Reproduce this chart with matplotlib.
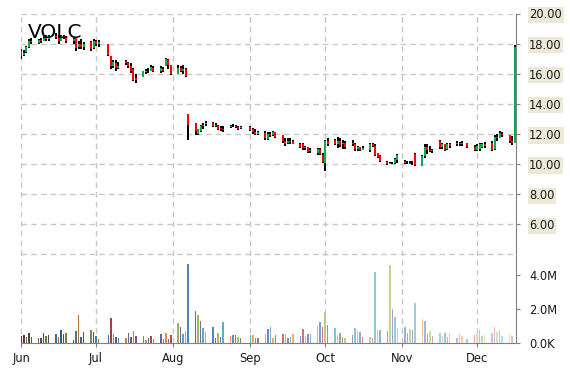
import numpy as np
import pandas as pd
import matplotlib
matplotlib.use('Agg')
import matplotlib.pyplot as plt
import matplotlib.dates as mdates
from matplotlib.colors import to_rgb

ticker = 'VOLC'

# trading days Jun 2 - Dec 17 2014
holidays = pd.to_datetime(['2014-07-04', '2014-09-01', '2014-11-27'])
dates = pd.bdate_range('2014-06-02', '2014-12-17')
dates = dates[~dates.isin(holidays)]

opens = [
    17.50, 17.25, 17.45, 17.80, 18.20, 18.05, 18.25, 18.20, 18.40, 18.30, 18.50,
    18.45, 18.20, 18.50, 18.40, 18.20, 18.40, 17.75, 18.00, 17.80, 18.10,
    17.70, 18.15, 17.95, 17.95, 17.20, 16.50, 16.70, 16.40, 16.85, 16.70, 16.50,
    16.30, 15.70, 15.80, 16.10, 16.20, 16.20, 16.40, 16.20, 16.30, 16.50, 16.90,
    16.55, 16.00, 16.40, 16.20, 16.30, 13.30, 12.70, 12.00, 12.20, 12.55, 12.65,
    12.70, 12.60, 12.55, 12.40, 12.35, 12.45, 12.50, 12.55, 12.45, 12.40,
    12.45, 12.30, 12.10, 12.00, 12.05, 11.65, 12.00, 11.90, 12.10, 11.90, 11.50,
    11.40, 11.55, 11.50, 11.35, 11.30, 11.05, 11.10, 10.85, 10.75, 11.00,
    10.60, 10.10, 11.50, 11.60, 11.30, 11.50, 11.30, 11.40, 11.40, 11.30, 11.00,
    11.10, 10.95, 10.90, 11.30, 11.20, 10.70, 10.55, 10.15, 10.00, 10.05, 10.05, 10.25,
    10.20, 10.05, 10.10, 10.10, 10.65, 9.90, 10.50, 11.10, 10.90, 10.85, 11.50,
    11.10, 11.30, 11.00, 11.30, 11.30, 11.40, 11.30, 11.40,
    11.10, 10.95, 11.00, 11.10, 11.30, 11.40, 11.00, 11.80, 11.75, 12.00, 11.90,
    11.50, 11.40,
]
highs = [
    17.65, 17.60, 17.85, 18.30, 18.35, 18.30, 18.40, 18.50, 18.60, 18.55, 18.70,
    18.55, 18.60, 18.60, 18.50, 18.45, 18.45, 18.20, 18.30, 18.10, 18.18,
    18.30, 18.25, 18.25, 18.00, 17.20, 16.90, 16.90, 16.80, 16.90, 16.80, 16.70,
    16.40, 15.95, 16.20, 16.30, 16.40, 16.60, 16.50, 16.50, 16.45, 17.05, 16.95,
    16.60, 16.60, 16.50, 16.60, 16.40, 13.30, 12.73, 12.35, 12.60, 12.73, 12.83,
    12.77, 12.70, 12.62, 12.55, 12.50, 12.60, 12.65, 12.60, 12.55, 12.50,
    12.55, 12.40, 12.30, 12.20, 12.17, 12.10, 12.15, 12.20, 12.15, 11.95, 11.76,
    11.75, 11.75, 11.60, 11.40, 11.40, 11.20, 11.14, 11.05, 11.07, 11.07,
    10.74, 11.60, 11.73, 11.69, 11.78, 11.75, 11.60, 11.50, 11.60, 11.40, 11.18,
    11.15, 11.18, 11.40, 11.40, 11.30, 10.74, 10.63, 10.19, 10.15, 10.15, 10.40, 10.68,
    10.30, 10.20, 10.20, 10.20, 10.74, 10.63, 11.30, 11.34, 11.20, 11.00, 11.60,
    11.40, 11.30, 11.40, 11.40, 11.50, 11.45, 11.50, 11.40,
    11.25, 11.30, 11.40, 11.40, 11.47, 11.50, 11.90, 12.00, 12.17, 12.10, 11.95,
    11.84, 17.90,
]
lows = [
    16.98, 17.15, 17.40, 17.74, 18.00, 17.96, 18.07, 18.15, 18.20, 18.20, 18.30,
    18.00, 18.15, 18.30, 18.05, 18.00, 17.50, 17.65, 17.67, 17.60, 17.50,
    17.65, 17.85, 17.75, 17.20, 16.30, 16.40, 16.20, 16.30, 16.55, 16.40, 16.05,
    15.50, 15.40, 15.75, 16.00, 16.05, 16.20, 16.10, 16.05, 16.10, 16.50, 16.30,
    15.90, 15.95, 16.10, 16.00, 15.75, 11.60, 11.95, 11.95, 12.10, 12.33, 12.50,
    12.46, 12.45, 12.28, 12.20, 12.15, 12.40, 12.45, 12.40, 12.28, 12.30,
    12.17, 12.00, 11.90, 11.95, 11.60, 11.60, 11.80, 11.85, 11.70, 11.40, 11.18,
    11.30, 11.35, 11.30, 11.07, 10.96, 10.90, 10.74, 10.75, 10.63, 10.60,
    10.05, 9.55, 11.18, 11.25, 11.07, 11.10, 11.00, 11.00, 11.20, 10.85, 10.85,
    10.85, 10.90, 10.80, 11.10, 10.52, 10.41, 10.15, 9.92, 9.97, 9.97, 9.97, 10.08,
    9.97, 9.97, 9.97, 9.95, 9.85, 9.85, 10.41, 10.68, 10.80, 10.75, 11.00,
    11.00, 10.85, 10.95, 11.07, 11.18, 11.20, 11.20, 11.07,
    10.85, 10.85, 10.85, 11.05, 11.07, 10.85, 10.95, 11.50, 11.73, 11.80, 11.40,
    11.29, 11.40,
]
closes = [
    17.20, 17.40, 17.75, 18.20, 18.10, 18.25, 18.20, 18.40, 18.30, 18.50, 18.45,
    18.20, 18.50, 18.35, 18.15, 18.30, 17.70, 18.00, 17.80, 18.00, 17.65,
    18.20, 17.95, 18.10, 17.25, 16.50, 16.75, 16.40, 16.50, 16.70, 16.50, 16.20,
    15.60, 15.60, 16.15, 16.20, 16.15, 16.45, 16.20, 16.35, 16.20, 16.95, 16.60,
    16.00, 16.40, 16.20, 16.30, 15.85, 12.60, 12.20, 12.30, 12.55, 12.60, 12.75,
    12.55, 12.50, 12.35, 12.30, 12.25, 12.50, 12.55, 12.45, 12.35, 12.45,
    12.25, 12.10, 12.00, 12.10, 11.70, 12.00, 11.90, 12.10, 11.80, 11.50, 11.30,
    11.55, 11.45, 11.35, 11.15, 11.05, 11.10, 10.80, 10.95, 11.00, 10.65,
    10.15, 11.50, 11.35, 11.30, 11.50, 11.25, 11.40, 11.10, 11.30, 11.00, 11.10,
    10.95, 11.05, 11.30, 11.20, 10.60, 10.45, 10.20, 10.00, 10.10, 10.10, 10.35, 10.60,
    10.05, 10.10, 10.00, 10.05, 9.95, 10.55, 11.10, 10.90, 10.85, 10.90, 11.10,
    11.35, 10.95, 11.30, 11.20, 11.40, 11.30, 11.40, 11.10,
    10.95, 11.20, 11.30, 11.35, 11.20, 10.90, 11.80, 11.70, 12.05, 11.90, 11.50,
    11.40, 17.80,
]
# volume in millions of shares
volumes = [
    0.45, 0.49, 0.39, 0.58, 0.37, 0.31, 0.31, 0.58, 0.45, 0.49, 0.53,
    0.37, 0.78, 0.55, 0.60, 0.19, 0.72, 1.66, 0.37, 0.64, 0.78,
    0.64, 0.41, 0.25, 0.49, 1.48, 0.55, 0.37, 0.31, 0.31, 0.60, 0.37,
    0.72, 0.43, 0.43, 0.19, 0.31, 0.43, 0.25, 0.55, 0.25, 0.60, 0.25,
    0.49, 1.19, 0.96, 0.55, 0.72, 4.64, 1.89, 1.66, 1.31, 0.90, 0.66,
    0.96, 0.31, 0.60, 0.37, 1.25, 0.43, 0.49, 0.49, 0.37, 0.31,
    0.49, 0.49, 0.31, 0.31, 0.55, 0.84, 0.96, 0.31, 0.49, 0.55, 0.55,
    0.31, 0.37, 0.55, 0.43, 0.84, 0.43, 0.55, 0.55, 1.01, 1.25,
    0.96, 1.83, 1.07, 0.90, 0.49, 0.60, 0.37, 0.31, 0.49, 0.90, 0.72,
    0.66, 0.37, 0.37, 0.31, 4.17, 0.78, 0.78, 0.72, 4.58, 2.00, 1.54, 0.90,
    0.96, 0.60, 0.84, 0.78, 2.36, 1.42, 1.31, 0.55, 0.72, 0.43, 0.60,
    0.43, 0.60, 0.37, 0.60, 0.31, 0.55, 0.43, 0.25,
    0.49, 0.60, 0.78, 0.43, 0.49, 0.60, 0.96, 0.66, 0.78, 0.43, 0.55,
    0.43, 0.0,
]

price_ticks = [6, 8, 10, 12, 14, 16, 18, 20]
vol_ticks = [0, 2, 4]
vol_labels = ['0.0K', '2.0M', '4.0M']
months = ['2014-06-01', '2014-07-01', '2014-08-01', '2014-09-01',
          '2014-10-01', '2014-11-01', '2014-12-01']

o = np.array(opens); h = np.array(highs); l = np.array(lows); c = np.array(closes)
v = np.array(volumes) * 1e6
# the source draws each bar one day left of its date
xs = mdates.date2num(dates - pd.Timedelta(days=1))

palette = ['#4F81BD', '#C0504D', '#9BBB59', '#8064A2', '#4BACC6', '#F79646']
def shade(col, f):
    r = np.array(to_rgb(col))
    return tuple(r * (1 + f)) if f < 0 else tuple(r + (1 - r) * f)
n = len(v)
vcolors = [shade(palette[i % 6], np.interp(i, [0, 48, n - 1], [-0.4, 0.0, 0.62]))
           for i in range(n)]

txt = '#1a1a1a'
grid_kw = dict(color='#C8C8C8', lw=1, ls=(0, (4, 3)))

fig = plt.figure(figsize=(5.7, 3.7), dpi=100)
ax = fig.add_axes([21.3 / 570, (370 - 343.3) / 370, (516 - 21.3) / 570, (343.3 - 13.5) / 370])
axv = ax.twinx()

for y in range(4, 21, 2):
    ax.axhline(y, zorder=0, **grid_kw)
ax.grid(axis='x', zorder=0, **grid_kw)
ax.set_axisbelow(True)

ax.vlines(xs, l, h, color='black', lw=1.1, antialiased=False, zorder=2)
up = c >= o
ax.vlines(xs[up], o[up], c[up], color='#00B050', lw=1.1, antialiased=False, zorder=3)
ax.vlines(xs[~up], o[~up], c[~up], color='#FF0000', lw=1.1, antialiased=False, zorder=3)

axv.bar(xs, v, width=0.6, color=vcolors, antialiased=False, zorder=2)

ax.set_xlim(mdates.date2num(pd.Timestamp('2014-06-01')),
            mdates.date2num(pd.Timestamp('2014-12-16')) + 0.6)
ax.set_ylim(-1.91, 20.0)
axv.set_ylim(0, 19.31e6)

ax.set_xticks(mdates.date2num(pd.to_datetime(months)))
ax.xaxis.set_major_formatter(mdates.DateFormatter('%b'))
ax.tick_params(axis='x', length=3, color='#808080', labelsize=8.3, labelcolor=txt, pad=3)

ax.yaxis.tick_right()
ax.set_yticks(price_ticks)
ax.set_yticklabels(['%.2f' % p for p in price_ticks])
ax.tick_params(axis='y', length=3, color='#808080', labelsize=8.3, labelcolor=txt, pad=6.5)
for t in ax.yaxis.get_major_ticks():
    t.label2.set_bbox(dict(facecolor='#ECE9D8', edgecolor='none', pad=1.2))

axv.set_yticks([t * 1e6 for t in vol_ticks])
axv.set_yticklabels(vol_labels)
axv.tick_params(axis='y', length=3, color='#808080', labelsize=8.3, labelcolor=txt, pad=6.5)

for a in (ax, axv):
    for s in ('top', 'left'):
        a.spines[s].set_visible(False)
ax.spines['right'].set_visible(False)
axv.spines['bottom'].set_visible(False)
ax.spines['bottom'].set_color('#808080')
axv.spines['right'].set_color('#808080')

fig.text(28 / 570, (370 - 38.3) / 370, ticker, fontsize=14.5, color='black', va='baseline')

fig.savefig('out.png', dpi=100)
